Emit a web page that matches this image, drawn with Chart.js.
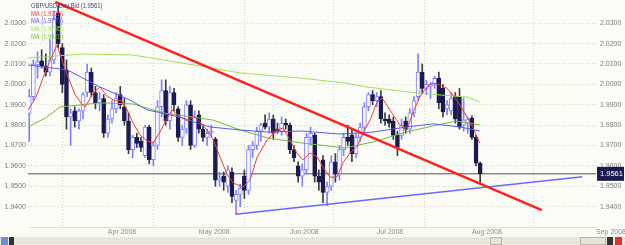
<!DOCTYPE html>
<html><head><meta charset="utf-8">
<script src="https://cdn.jsdelivr.net/npm/chart.js@4/dist/chart.umd.min.js"></script>
<style>html,body{margin:0;padding:0;background:#fcfcf7;overflow:hidden}#wrap{width:625px;height:245px;position:relative}</style>
</head><body><div id="wrap"><canvas id="c" width="625" height="245"></canvas></div>
<script>
// x index: trading-day count from 1 Apr 2008 (0 = 1 Apr 2008)
const candleStart = -19;
const openP  = [1.9858,1.9940,2.0095,2.0115,2.0090,2.0060,2.0120,2.0350,2.0180,2.0070,1.9840,1.9870,1.9820,1.9870,1.9960,2.0060,1.9960,1.9910,1.9930,
1.9760,1.9830,1.9880,1.9950,1.9890,1.9820,1.9680,1.9740,1.9720,1.9650,1.9790,1.9630,1.9700,1.9890,1.9970,1.9820,1.9960,1.9880,1.9740,1.9780,1.9900,1.9700,
1.9850,1.9780,1.9740,1.9760,1.9730,1.9530,1.9550,1.9500,1.9570,1.9430,1.9460,1.9550,1.9480,1.9680,1.9700,1.9770,1.9810,1.9790,1.9830,1.9780,1.9770,1.9810,
1.9800,1.9680,1.9600,1.9550,1.9580,1.9740,1.9750,1.9550,1.9630,1.9470,1.9500,1.9620,1.9560,1.9680,1.9740,1.9750,1.9660,1.9740,1.9790,1.9890,1.9950,1.9920,
1.9940,1.9830,1.9830,1.9820,1.9750,1.9750,1.9820,1.9780,1.9860,1.9940,2.0060,1.9980,1.9990,2.0000,2.0030,1.9980,1.9880,1.9870,1.9940,1.9940,1.9800,1.9810,
1.9835,1.9740,1.9613];
const highP  = [1.9975,2.0120,2.0160,2.0170,2.0150,2.0220,2.0360,2.0390,2.0200,2.0120,1.9880,1.9890,1.9880,1.9960,2.0100,2.0080,1.9990,1.9960,1.9950,
1.9850,1.9920,1.9960,1.9990,1.9930,1.9860,1.9750,1.9760,1.9740,1.9800,1.9800,1.9720,1.9920,2.0022,2.0022,1.9990,1.9980,1.9890,1.9800,1.9920,1.9920,1.9870,
1.9870,1.9800,1.9780,1.9800,1.9740,1.9570,1.9570,1.9600,1.9590,1.9480,1.9510,1.9580,1.9700,1.9720,1.9790,1.9810,1.9850,1.9860,1.9850,1.9810,1.9840,1.9830,
1.9810,1.9700,1.9620,1.9610,1.9760,1.9790,1.9760,1.9580,1.9650,1.9520,1.9650,1.9660,1.9700,1.9760,1.9800,1.9780,1.9760,1.9810,1.9910,1.9960,1.9970,1.9960,
1.9970,1.9860,1.9850,1.9840,1.9770,1.9830,1.9840,1.9880,1.9940,2.0150,2.0100,2.0020,2.0010,2.0040,2.0060,2.0000,1.9920,1.9960,1.9960,1.9980,1.9933,1.9840,
1.9845,1.9750,1.9620];
const lowP   = [1.9720,1.9920,2.0030,2.0080,2.0040,2.0040,2.0100,2.0180,1.9960,1.9780,1.9700,1.9790,1.9780,1.9830,1.9940,1.9940,1.9880,1.9870,1.9740,
1.9740,1.9810,1.9860,1.9880,1.9800,1.9660,1.9640,1.9690,1.9670,1.9640,1.9610,1.9600,1.9680,1.9840,1.9800,1.9780,1.9870,1.9720,1.9700,1.9760,1.9680,1.9690,
1.9760,1.9720,1.9700,1.9740,1.9500,1.9500,1.9480,1.9470,1.9420,1.9365,1.9400,1.9440,1.9460,1.9640,1.9680,1.9720,1.9780,1.9760,1.9730,1.9760,1.9750,1.9780,
1.9660,1.9620,1.9520,1.9500,1.9560,1.9700,1.9520,1.9480,1.9420,1.9405,1.9480,1.9520,1.9530,1.9650,1.9700,1.9620,1.9640,1.9720,1.9770,1.9870,1.9900,1.9890,
1.9810,1.9800,1.9790,1.9730,1.9650,1.9730,1.9760,1.9760,1.9840,1.9920,1.9960,1.9950,1.9930,1.9980,1.9880,1.9840,1.9850,1.9850,1.9810,1.9780,1.9770,1.9760,
1.9730,1.9600,1.9515];
const closeP = [1.9940,2.0100,2.0110,2.0090,2.0060,2.0120,2.0320,2.0200,2.0000,1.9840,1.9860,1.9820,1.9870,1.9950,2.0060,1.9960,1.9910,1.9930,1.9760,
1.9830,1.9880,1.9930,1.9900,1.9820,1.9680,1.9740,1.9710,1.9690,1.9790,1.9630,1.9700,1.9890,1.9970,1.9820,1.9960,1.9900,1.9740,1.9780,1.9900,1.9700,1.9840,
1.9780,1.9740,1.9760,1.9770,1.9530,1.9540,1.9520,1.9580,1.9450,1.9460,1.9490,1.9480,1.9680,1.9700,1.9770,1.9800,1.9790,1.9830,1.9760,1.9770,1.9810,1.9800,
1.9680,1.9640,1.9550,1.9580,1.9740,1.9760,1.9550,1.9520,1.9470,1.9500,1.9620,1.9560,1.9680,1.9740,1.9720,1.9660,1.9740,1.9790,1.9890,1.9950,1.9920,1.9940,
1.9830,1.9820,1.9810,1.9750,1.9690,1.9800,1.9780,1.9860,1.9920,2.0060,1.9980,2.0000,2.0000,2.0030,1.9910,1.9865,1.9900,1.9930,1.9830,1.9790,1.9825,1.9830,
1.9740,1.9613,1.9561];

// moving averages: [trading-day index, value]
const maFast = [[-19.25,1.9874],[-17.3,1.9940],[-15.6,2.0036],[-13.9,2.0120],[-12.3,2.0193],[-10.1,2.0060],[-9.1,2.0010],[-7.9,1.9950],[-6.2,1.9900],[-5.5,1.9889],[-3.5,1.9958],[-1.9,1.9987],[-0.2,1.9943],[1.8,1.9918],[3.2,1.9923],[4.7,1.9874],[6.1,1.9810],[7.8,1.9751],[9.5,1.9722],[10.9,1.9712],[12.6,1.9766],[14.3,1.9835],[15.5,1.9874],[17.5,1.9840],[19.2,1.9820],[20.6,1.9845],[22.3,1.9815],[24.0,1.9776],[25.4,1.9732],[27.1,1.9644],[28.8,1.9560],[30.3,1.9516],[32.7,1.9496],[34.4,1.9531],[36.1,1.9644],[38.5,1.9727],[40.9,1.9776],[42.4,1.9786],[44.0,1.9727],[45.7,1.9663],[47.2,1.9629],[48.9,1.9663],[50.6,1.9644],[52.0,1.9594],[53.7,1.9545],[55.4,1.9545],[56.8,1.9614],[58.5,1.9663],[60.2,1.9693],[61.7,1.9761],[63.4,1.9825],[65.0,1.9909],[66.3,1.9933],[68.2,1.9874],[70.6,1.9801],[72.3,1.9776],[73.7,1.9860],[75.4,1.9938],[77.1,1.9987],[78.6,2.0007],[80.3,1.9997],[81.9,1.9982],[83.4,1.9948],[85.1,1.9899],[86.8,1.9840],[88.2,1.9791],[89.9,1.9712]];
const maMid = [[-19.25,2.0095],[-9.8,2.0071],[-1.9,1.9987],[5.4,1.9923],[9.5,1.9874],[12.0,1.9864],[18.2,1.9835],[21.6,1.9810],[24.7,1.9791],[32.0,1.9776],[38.7,1.9766],[47.0,1.9771],[56.1,1.9756],[64.1,1.9766],[72.3,1.9791],[78.6,1.9806],[85.1,1.9791],[89.9,1.9771]];
const maSlow = [[-19.25,1.9791],[-15.1,1.9835],[-11.5,1.9889],[-1.9,1.9909],[6.1,1.9904],[13.3,1.9860],[25.4,1.9825],[32.0,1.9776],[38.7,1.9737],[47.0,1.9712],[57.3,1.9688],[64.1,1.9717],[72.1,1.9766],[78.6,1.9796],[84.2,1.9820],[89.9,1.9801]];
const maLong = [[-19.5,2.0129],[-6.0,2.0149],[6.1,2.0144],[22.3,2.0090],[32.0,2.0056],[46.5,2.0031],[57.3,2.0007],[62.6,1.9987],[73.0,1.9962],[80.3,1.9948],[86.8,1.9938],[89.9,1.9914]];
const resistanceLine = [[-12.7,2.0405],[104.9,1.9383]];
const supportLine = [[30.8,1.9362],[114.7,1.9547]];
const lastPrice = 1.9561;
const legendTexts = ['GBP/USD Day Bid (1.9561)','MA (1.9716)','MA (1.9773)','MA (1.9795)','MA (1.9920)'];
const yTickValues = [1.94,1.95,1.96,1.97,1.98,1.99,2.00,2.01,2.02,2.03];
const monthTickIdx = [0,22,44,65,88,118];
const monthTickLabels = ['Apr 2008','May 2008','Jun 2008','Jul 2008','Aug 2008','Sep 2008'];

const C = {bullFill:'#fbfbff',bullLine:'#8080ff',bearFill:'#1b1b4f',bearWick:'#3c3c3c',
  fast:'#f03c3c',mid:'#5a5aee',slow:'#74bb3c',long:'#9ee05a',res:'#ff2020',sup:'#6a6aff',price:'#505050'};
const FONT = 'Liberation Sans, Arial, sans-serif';

const idx = openP.map((_, i) => candleStart + i);
const isBull = i => closeP[i] >= openP[i];
const toXY = arr => arr.map(p => ({x: p[0], y: p[1]}));
const lineDs = (data, color, width, order) => ({type:'line', data, borderColor:color, borderWidth:width,
  pointRadius:0, fill:false, tension:0, order, yAxisID:'y'});

const bgPlugin = {id:'bg', beforeDraw(chart){const c=chart.ctx;c.save();c.fillStyle='#fcfcf7';c.fillRect(0,0,chart.width,chart.height);c.restore();}};
const overlayPlugin = {id:'overlay', afterDraw(chart){
  const c = chart.ctx, ys = chart.scales.y, a = chart.chartArea;
  c.save();
  // legend (narrow text)
  const cols = ['#404084', C.fast, C.mid, C.long, C.slow];
  c.font = '7px ' + FONT; c.textBaseline = 'middle'; c.textAlign = 'left';
  legendTexts.forEach((t, k) => {
    c.save(); c.translate(a.left + 3, 6 + k * 7.7); c.scale(0.83, 1);
    c.fillStyle = cols[k]; c.fillText(t, 0, 0); c.restore();
  });
  // last price tag
  const py = ys.getPixelForValue(lastPrice);
  c.fillStyle = '#1b1b4f'; c.fillRect(a.right + 1, py - 7, 27, 14);
  c.fillStyle = '#ffffff'; c.font = '7.5px ' + FONT; c.fillText(lastPrice.toFixed(4), a.right + 4, py + 0.5);
  // scroll bar strip
  c.fillStyle = '#ece9dd'; c.fillRect(0, 237, chart.width, 8);
  c.fillStyle = '#d6d2c2'; for (let x = 0; x < chart.width; x += 2) { c.fillRect(x, 238 + (x % 4 ? 1 : 0), 1, 1); c.fillRect(x, 241 + (x % 4 ? 0 : 1), 1, 1); }
  c.fillStyle = '#e6e3d8'; c.strokeStyle = '#b8b4a4'; c.fillRect(490, 237, 12, 8); c.strokeRect(490.5, 237.5, 11, 7);
  c.fillRect(580, 237, 26, 8); c.strokeRect(580.5, 237.5, 25, 7);
  c.fillStyle = '#333'; c.fillRect(607, 237, 6, 8); c.fillStyle = '#e03030'; c.fillRect(615, 237, 7, 8);
  c.fillStyle = '#6a8fd0'; c.fillRect(1, 237, 7, 8); c.fillStyle = '#333'; c.fillRect(9, 237, 5, 8);
  c.restore();
}};

const noPadY = w => s => { s.width = w; s.paddingTop = 0; s.paddingBottom = 0; };

new Chart(document.getElementById('c'), {
  type: 'bar',
  data: { datasets: [
    lineDs(toXY(resistanceLine), C.res, 2.5, 0),
    lineDs(toXY(supportLine), C.sup, 1.5, 0),
    lineDs(toXY(maFast), C.fast, 1, 1),
    lineDs(toXY(maMid), C.mid, 1, 1),
    lineDs(toXY(maSlow), C.slow, 1, 1),
    lineDs(toXY(maLong), C.long, 1, 1),
    {type:'bar', data: idx.map((x, i) => ({x, y:[Math.min(openP[i], closeP[i]), Math.max(openP[i], closeP[i])]})),
      backgroundColor: idx.map((_, i) => isBull(i) ? C.bullFill : C.bearFill),
      borderColor: idx.map((_, i) => isBull(i) ? C.bullLine : C.bearFill),
      borderWidth: 1, borderSkipped: false, barThickness: 4, grouped: false, order: 3, yAxisID:'y'},
    {type:'bar', data: idx.map((x, i) => ({x, y:[lowP[i], highP[i]]})),
      backgroundColor: idx.map((_, i) => isBull(i) ? C.bullLine : C.bearWick),
      barThickness: 1, grouped: false, order: 4, yAxisID:'y'},
    lineDs([{x:-30, y:lastPrice}, {x:130, y:lastPrice}], C.price, 1, 5)
  ]},
  options: {
    responsive: false, animation: false, events: [],
    layout: {padding: {top: 0, bottom: 8, left: 0, right: 0}},
    plugins: {legend: {display: false}, tooltip: {enabled: false}},
    scales: {
      x: {type: 'linear', min: -19.3, max: 118, offset: false,
        afterBuildTicks: s => { s.ticks = monthTickIdx.map(v => ({value: v})); },
        afterFit: s => { s.height = 10; s.paddingLeft = 0; s.paddingRight = 0; },
        ticks: {align: 'start', padding: 1, maxRotation: 0, autoSkip: false, color: '#8a8a8a', font: {family: FONT, size: 7},
          callback: (v) => monthTickLabels[monthTickIdx.indexOf(v)]},
        grid: {color: '#d9d6c6', lineWidth: 1, drawTicks: false},
        border: {display: true, color: '#e4e0d0', dash: [1, 2]}},
      y: {position: 'left', min: 1.93, max: 2.0414,
        afterBuildTicks: s => { s.ticks = yTickValues.map(v => ({value: v})); },
        afterFit: noPadY(28),
        ticks: {padding: 2, color: '#7a7a7a', font: {family: FONT, size: 7}, callback: v => v.toFixed(4)},
        grid: {color: '#d9d6c6', drawTicks: false}, border: {display: false, dash: [1, 2]}},
      y2: {position: 'right', min: 1.93, max: 2.0414,
        afterBuildTicks: s => { s.ticks = yTickValues.map(v => ({value: v})); },
        afterFit: noPadY(29),
        ticks: {padding: 4, color: '#7a7a7a', font: {family: FONT, size: 7}, callback: v => v.toFixed(4)},
        grid: {display: false, drawTicks: false}, border: {display: false}}
    }
  },
  plugins: [bgPlugin, overlayPlugin]
});
</script></body></html>
